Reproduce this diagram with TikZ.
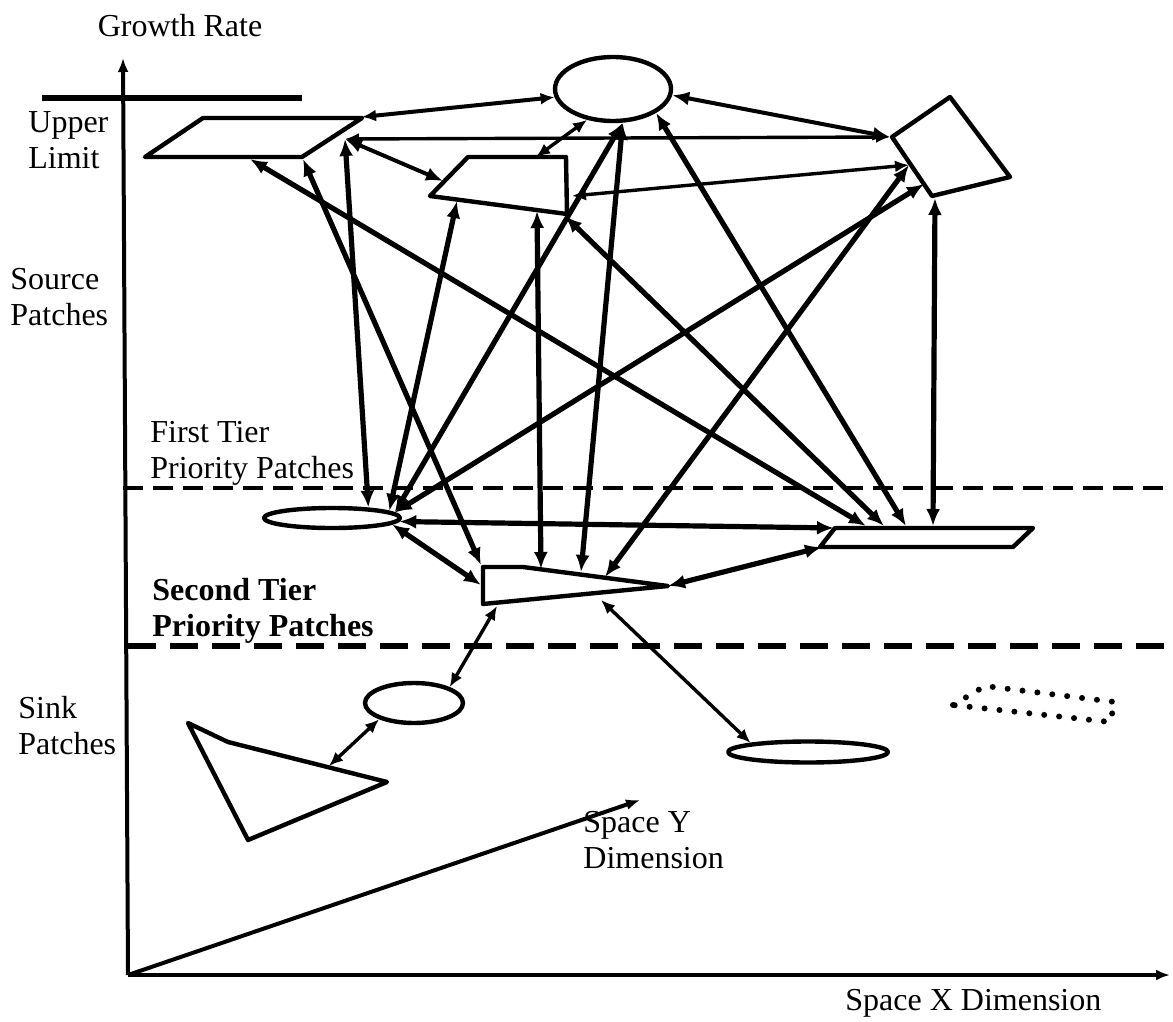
\documentclass[tikz,border=0pt]{standalone}
\usepackage{fontspec}
\setmainfont{Liberation Serif}
\usetikzlibrary{arrows.meta,shapes.geometric}
\tikzset{
  patch/.style={draw, line width=2.2pt, line join=round},
  oval/.style={patch, ellipse, inner sep=0pt},
  link/.style={{Latex[length=8.5pt,width=7pt]}-{Latex[length=8.5pt,width=7pt]}, line width=2.6pt},
  thinlink/.style={{Latex[length=7pt,width=6pt]}-{Latex[length=7pt,width=6pt]}, line width=1.7pt},
  axis/.style={-{Latex[length=7pt,width=5.5pt]}, line width=2pt},
  lbl/.style={anchor=west, align=left, inner sep=0pt, font=\fontsize{16}{18}\selectfont},
  dots/.style={line width=3pt, dash pattern=on 0pt off 7.5pt, line cap=round},
}
\begin{document}
\begin{tikzpicture}[x=0.5pt,y=-0.5pt]
    \useasboundingbox (0,0) rectangle (1173,1022);
    % axes
    \coordinate (o) at (128,975);
    \draw[axis] (o) -- (123,58);
    \draw[axis] (o) -- (1170,975);
    \draw[axis] (o) -- (640,800);
    \draw[line width=3pt] (42,98) -- (302,98);
    % tier boundaries
    \draw[line width=1.7pt, dash pattern=on 10pt off 5pt] (123,488) -- (1173,488);
    \draw[line width=2.6pt, dash pattern=on 14pt off 7pt] (128,646) -- (1173,646);
    % axis and band labels
    \node[lbl, anchor=center] (gr) at (180,26) {Growth Rate};
    \node[lbl] (ul) at (28,140) {Upper\\Limit};
    \node[lbl] (sp) at (10,297) {Source\\Patches};
    \node[lbl] (ft) at (150,453) {First Tier\\Priority Patches};
    \node[lbl, font=\fontsize{16}{18}\selectfont\bfseries] (sct) at (152,611) {Second Tier\\Priority Patches};
    \node[lbl] (sk) at (18,726) {Sink\\Patches};
    \node[lbl] (sy) at (583,840) {Space Y\\Dimension};
    \node[lbl] (sx) at (845,1003) {Space X Dimension};
    % patches
    \draw[patch] (145,157) -- (203,118) -- (362,118) -- (302,157) -- cycle;
    \draw[patch] (430,196) -- (468,157) -- (566,157) -- (567,214) -- cycle;
    \draw[patch] (892,137) -- (950,97) -- (1010,177) -- (932,196) -- cycle;
    \draw[patch] (820,547) -- (835,528) -- (1033,528) -- (1013,547) -- cycle;
    \draw[patch] (483,567) -- (523,567) -- (668,586) -- (483,604) -- cycle;
    \draw[patch] (188,723) -- (228,742) -- (387,782) -- (248,840) -- cycle;
    \draw[dots] (953,705) -- (985,686) -- (1115,702) -- (1110,722) -- cycle;
    \node[oval, minimum width=58pt, minimum height=32pt] (top) at (613,89) {};
    \node[oval, minimum width=68pt, minimum height=10pt] (first) at (332,518) {};
    \node[oval, minimum width=49pt, minimum height=20pt] (sinka) at (414,703) {};
    \node[oval, minimum width=80pt, minimum height=10.5pt] (sinkb) at (808,752) {};
    % connector ends on the polygon patches
    \coordinate (ulTR) at (362,117);
    \coordinate (ulA) at (345,139);
    \coordinate (ulB) at (303,159);
    \coordinate (ulC) at (250,159);
    \coordinate (mtL) at (443,181);
    \coordinate (mtB1) at (457,201);
    \coordinate (mtB2) at (537,211);
    \coordinate (mtC) at (565,216);
    \coordinate (mtT) at (536,157);
    \coordinate (mtR) at (572,196);
    \coordinate (trL) at (890,137);
    \coordinate (trE1) at (909,165);
    \coordinate (trE2) at (924,184);
    \coordinate (trB) at (935,198);
    \coordinate (fbL) at (834,528);
    \coordinate (fb1) at (866,526);
    \coordinate (fb2) at (884,526);
    \coordinate (fb3) at (906,526);
    \coordinate (fb4) at (933,526);
    \coordinate (fbBL) at (822,547);
    \coordinate (stTL) at (481,565);
    \coordinate (stL) at (481,585);
    \coordinate (stT1) at (541,569);
    \coordinate (stT2) at (581,572);
    \coordinate (stT3) at (605,577);
    \coordinate (stTip) at (668,586);
    \coordinate (stB1) at (497,606);
    \coordinate (stB2) at (601,600);
    \coordinate (triT) at (329,766);
    % links among the source patches
    \draw[thinlink, line width=2pt] (ulTR) -- (top.188);
    \draw[link, line width=2pt] (top.-6) -- (trL);
    \draw[thinlink] (ulA) -- (trL);
    \draw[link, line width=2pt] (ulA) -- (mtL);
    \draw[thinlink] (top.-130) -- (mtT);
    \draw[thinlink] (mtR) -- (trE1);
    % links from source patches down to the priority patches
    \draw[link] (ulA) -- (first.16);
    \draw[link] (ulB) -- (stTL);
    \draw[link] (ulC) -- (fb1);
    \draw[link] (mtC) -- (fb2);
    \draw[link] (top.-29) -- (fb3);
    \draw[link] (trB) -- (fb4);
    \draw[link] (mtB1) -- (first.7);
    \draw[link] (mtB2) -- (stT1);
    \draw[link] (top.-74) -- (first.5);
    \draw[link] (top.-74) -- (stT2);
    \draw[link] (trE1) -- (stT3);
    \draw[link] (trE2) -- (first.5);
    % links among the priority patches
    \draw[link] (first.-3) -- (fbL);
    \draw[link] (first.-6) -- (stL);
    \draw[link] (stTip) -- (fbBL);
    % links to the sink patches
    \draw[thinlink] (stB1) -- (sinka.24);
    \draw[thinlink] (sinka.205) -- (triT);
    \draw[thinlink] (stB2) -- (sinkb.171);
\end{tikzpicture}
\end{document}
